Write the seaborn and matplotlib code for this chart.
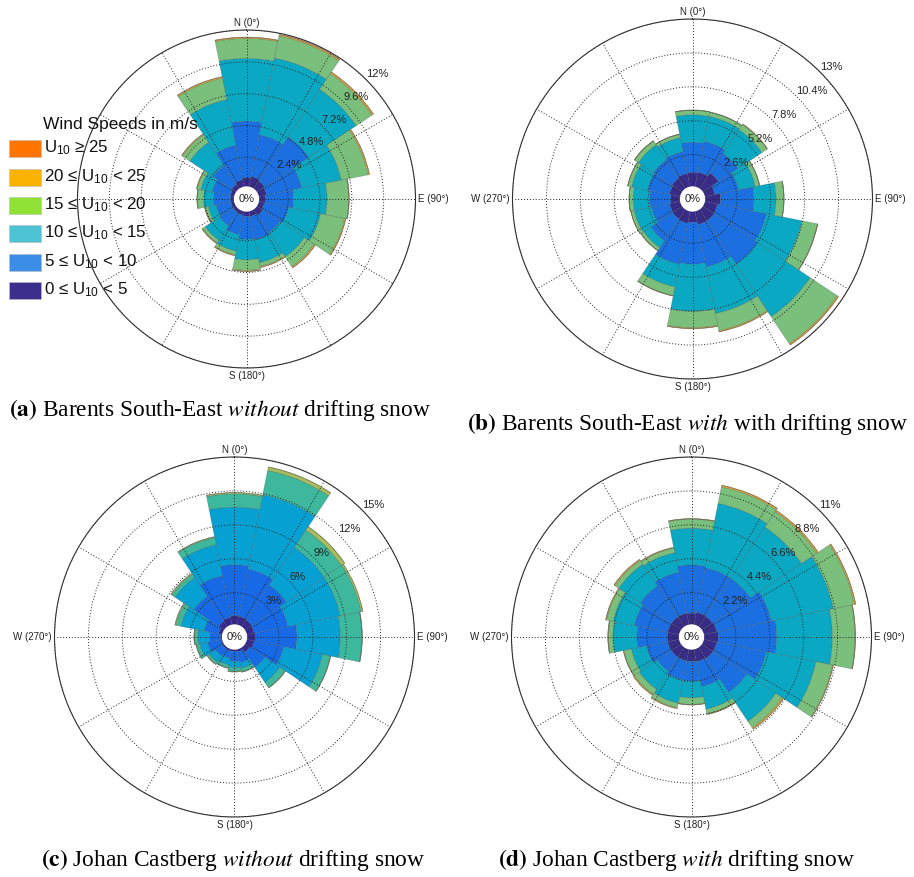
import numpy as np
import matplotlib
matplotlib.use("Agg")
import matplotlib.pyplot as plt
import seaborn as sns
from matplotlib.patches import Rectangle

sns.set_theme(style="white")
plt.rcParams["font.family"] = ["Liberation Sans", "DejaVu Sans"]
plt.rcParams["mathtext.fontset"] = "custom"
plt.rcParams["mathtext.rm"] = "Liberation Sans"
plt.rcParams["mathtext.it"] = "Liberation Sans:italic"
plt.rcParams["mathtext.bf"] = "Liberation Sans:bold"

# ---------------- data ----------------
directions = ["N", "NNE", "NE", "ENE", "E", "ESE", "SE", "SSE",
              "S", "SSW", "SW", "WSW", "W", "WNW", "NW", "NNW"]
direction_deg = [0, 22.5, 45, 67.5, 90, 112.5, 135, 157.5,
                 180, 202.5, 225, 247.5, 270, 292.5, 315, 337.5]
compass_labels = ["N (0°)", "E (90°)", "S (180°)", "W (270°)"]
speed_labels = [r"0 ≤ $\mathregular{U_{10}}$ < 5",
                r"5 ≤ $\mathregular{U_{10}}$ < 10",
                r"10 ≤ $\mathregular{U_{10}}$ < 15",
                r"15 ≤ $\mathregular{U_{10}}$ < 20",
                r"20 ≤ $\mathregular{U_{10}}$ < 25",
                r"$\mathregular{U_{10}}$ ≥ 25"]

# (a) Barents South-East without drifting snow, frequency in % per direction
a_0_5   = [0.86, 1.00, 0.90, 0.80, 0.70, 0.63, 0.75, 0.60, 0.58, 0.50, 0.48, 0.45, 0.45, 0.50, 0.60, 0.75]
a_5_10  = [4.27, 3.20, 4.00, 2.70, 2.10, 1.87, 1.55, 1.80, 1.72, 1.50, 1.22, 1.15, 1.31, 1.40, 1.70, 2.65]
a_10_15 = [4.73, 5.90, 4.30, 3.04, 2.53, 2.45, 2.20, 1.75, 1.55, 1.27, 1.30, 0.60, 0.74, 0.87, 2.10, 3.50]
a_15_20 = [1.51, 1.70, 1.44, 2.06, 1.64, 1.85, 0.90, 0.30, 0.80, 0.28, 0.25, 0.25, 0.47, 0.28, 0.68, 1.65]
a_20_25 = [0.08, 0.10, 0.12, 0.10, 0.03, 0.08, 0.10, 0.07, 0.07, 0.07, 0.05, 0.03, 0.03, 0.05, 0.07, 0.10]
a_25    = [0.02, 0.02, 0.02, 0.01, 0.00, 0.01, 0.01, 0.00, 0.00, 0.00, 0.00, 0.00, 0.00, 0.00, 0.00, 0.01]

# (b) Barents South-East with drifting snow
b_0_5   = [1.25, 1.30, 1.60, 0.95, 1.35, 1.15, 1.20, 1.20, 1.00, 1.10, 1.05, 1.00, 0.87, 1.00, 1.10, 1.20]
b_5_10  = [2.30, 2.40, 1.80, 1.85, 2.55, 3.82, 4.00, 3.30, 3.20, 3.20, 2.01, 1.40, 1.60, 1.70, 1.70, 1.70]
b_10_15 = [2.11, 1.96, 2.20, 1.30, 1.70, 2.78, 4.85, 3.65, 3.60, 1.77, 0.64, 1.35, 1.28, 1.25, 1.40, 1.10]
b_15_20 = [0.34, 0.31, 0.47, 0.33, 0.60, 1.21, 2.50, 1.35, 1.28, 0.68, 0.25, 0.25, 0.30, 0.30, 0.35, 0.25]
b_20_25 = [0.02, 0.02, 0.05, 0.02, 0.02, 0.03, 0.10, 0.08, 0.06, 0.03, 0.02, 0.02, 0.02, 0.02, 0.03, 0.02]
b_25    = [0.00, 0.00, 0.00, 0.00, 0.00, 0.00, 0.02, 0.01, 0.01, 0.00, 0.00, 0.00, 0.00, 0.00, 0.00, 0.00]

# (c) Johan Castberg without drifting snow
c_0_5   = [0.95, 0.95, 0.90, 0.85, 0.90, 0.85, 0.70, 0.40, 0.35, 0.35, 0.35, 0.30, 0.30, 0.50, 0.75, 0.85]
c_5_10  = [4.52, 4.25, 3.70, 3.05, 3.70, 2.65, 1.60, 1.00, 0.90, 0.65, 0.75, 1.20, 1.00, 1.30, 2.65, 3.75]
c_10_15 = [5.09, 6.70, 4.00, 4.70, 3.83, 3.50, 1.60, 0.50, 0.55, 0.60, 0.65, 0.70, 1.00, 2.10, 2.00, 2.80]
c_15_20 = [1.19, 2.20, 1.85, 1.90, 1.92, 0.70, 0.55, 0.30, 0.30, 0.25, 0.20, 0.30, 0.33, 0.45, 0.35, 0.65]
c_20_25 = [0.10, 0.30, 0.35, 0.15, 0.03, 0.05, 0.05, 0.05, 0.07, 0.05, 0.07, 0.05, 0.04, 0.10, 0.10, 0.07]
c_25    = [0.01, 0.02, 0.02, 0.01, 0.00, 0.00, 0.00, 0.00, 0.00, 0.00, 0.00, 0.00, 0.00, 0.00, 0.00, 0.00]

# (d) Johan Castberg with drifting snow
d_0_5   = [0.87, 0.95, 0.95, 1.00, 1.06, 1.00, 1.00, 0.95, 0.90, 0.90, 0.90, 0.90, 0.90, 0.90, 0.90, 0.90]
d_5_10  = [3.13, 2.95, 2.95, 3.60, 3.79, 3.26, 2.64, 1.65, 1.29, 1.26, 1.10, 1.40, 1.96, 2.20, 2.40, 2.70]
d_10_15 = [2.38, 4.26, 4.00, 4.10, 3.61, 3.29, 2.26, 1.50, 1.08, 1.54, 1.40, 1.00, 1.54, 1.40, 1.70, 1.30]
d_15_20 = [0.59, 1.09, 1.20, 1.40, 1.47, 1.10, 0.50, 0.30, 0.43, 0.30, 0.40, 0.50, 0.32, 0.45, 0.30, 0.30]
d_20_25 = [0.03, 0.10, 0.10, 0.08, 0.03, 0.05, 0.10, 0.05, 0.03, 0.06, 0.07, 0.03, 0.03, 0.05, 0.08, 0.05]
d_25    = [0.00, 0.01, 0.01, 0.01, 0.00, 0.00, 0.01, 0.00, 0.00, 0.00, 0.00, 0.00, 0.00, 0.00, 0.00, 0.00]

a_ticks = [2.4, 4.8, 7.2, 9.6, 12]
b_ticks = [2.6, 5.2, 7.8, 10.4, 13]
c_ticks = [3, 6, 9, 12, 15]
d_ticks = [2.2, 4.4, 6.6, 8.8, 11]

captions = [r"$\mathbf{(a)}$ Barents South-East $\mathit{without}$ drifting snow",
            r"$\mathbf{(b)}$ Barents South-East $\mathit{with}$ with drifting snow",
            r"$\mathbf{(c)}$ Johan Castberg $\mathit{without}$ drifting snow",
            r"$\mathbf{(d)}$ Johan Castberg $\mathit{with}$ drifting snow"]

# ---------------- styles ----------------
bar_colors = sns.color_palette(["#392b88", "#1b6fe0", "#0aa8c2", "#7bbf7c", "#eaa935", "#f07020"])
bar_colors_c = sns.color_palette(["#37298e", "#1769e6", "#07a0d2", "#3db89c", "#a8be5c", "#e8b030"])
legend_colors = ["#3a2e8c", "#3b8de5", "#4ec3d3", "#8fe136", "#f9b300", "#ff7500"]

W, H = 914, 877
fig = plt.figure(figsize=(W / 100, H / 100), dpi=100)
fig.patch.set_facecolor("white")
HOLE = 0.058


def draw_panel(cx, cy, R, bins, colors, ticks, show_w=True):
    ax = fig.add_axes([(cx - R) / W, 1 - (cy + R) / H, 2 * R / W, 2 * R / H],
                      projection="polar")
    theta = np.deg2rad(direction_deg)
    bottom = np.zeros(len(theta))
    for vals, col in zip(bins, colors):
        vals = np.asarray(vals)
        ax.bar(theta, vals, width=np.deg2rad(22.5), bottom=bottom, color=col,
               edgecolor=(0.2, 0.25, 0.25, 0.35), linewidth=0.45, align="center", zorder=1)
        bottom = bottom + vals
    rmax = ticks[-1]
    ax.set_theta_zero_location("N")
    ax.set_theta_direction(-1)
    ax.set_ylim(0, rmax)
    ax.set_rorigin(-HOLE * rmax / (1 - HOLE))
    ax.set_rticks(ticks)
    ax.set_yticklabels([])
    ax.set_thetagrids(np.arange(0, 360, 30), [""] * 12)
    ax.grid(True, color="#222222", linestyle=(0, (1, 2)), linewidth=0.7)
    ax.set_axisbelow(False)
    ax.spines["polar"].set_color("#333333")
    ax.spines["polar"].set_linewidth(0.8)
    for key in ("inner", "start", "end"):
        try:
            ax.spines[key].set_visible(False)
        except KeyError:
            pass
    # compass labels just outside the rim (offsets in axes fraction)
    d = 1.0 / (2 * R)
    kw = dict(transform=ax.transAxes, fontsize=7, color="#222222")
    ax.text(0.5, 1 + 7 * d, compass_labels[0], ha="center", va="center", **kw)
    ax.text(1 + 3 * d, 0.5, compass_labels[1], ha="left", va="center", **kw)
    ax.text(0.5, -8 * d, compass_labels[2], ha="center", va="center", **kw)
    if show_w:
        ax.text(-3 * d, 0.5, compass_labels[3], ha="right", va="center", **kw)
    for t in ticks:
        ax.text(np.deg2rad(45), t, f"{t:g}%", ha="left", va="bottom",
                fontsize=8, color="#222222", zorder=5)
    # "0%" in a clean white hole
    ax.text(0.5, 0.5, "0%", transform=ax.transAxes, ha="center", va="center",
            fontsize=8, color="#222222", zorder=6,
            bbox=dict(boxstyle="circle,pad=0.42", facecolor="white", edgecolor="none"))
    return ax


draw_panel(246.5, 199, 169, [a_0_5, a_5_10, a_10_15, a_15_20, a_20_25, a_25],
           bar_colors, a_ticks, show_w=False)
draw_panel(692.5, 199, 180, [b_0_5, b_5_10, b_10_15, b_15_20, b_20_25, b_25],
           bar_colors, b_ticks)
draw_panel(234.5, 637, 180, [c_0_5, c_5_10, c_10_15, c_15_20, c_20_25, c_25],
           bar_colors_c, c_ticks)
draw_panel(691.5, 637, 180, [d_0_5, d_5_10, d_10_15, d_15_20, d_20_25, d_25],
           bar_colors, d_ticks)

# legend (panel a), drawn in figure pixel space
fig.text(43 / W, 1 - 125 / H, "Wind Speeds in m/s", ha="left", va="center",
         fontsize=12.5, color="#111111")
row_y = [290, 262, 233, 205, 177, 148]
for y, col, lab in zip(row_y, legend_colors, speed_labels):
    fig.add_artist(Rectangle((9 / W, 1 - (y + 8.5) / H), 32 / W, 17 / H,
                             transform=fig.transFigure, facecolor=col,
                             edgecolor="#bbbbbb", linewidth=0.4))
    fig.text(44 / W, 1 - y / H, lab, ha="left", va="center", fontsize=12.2,
             color="#111111")

# captions
cap_pos = [(219.5, 410), (687, 424), (233, 860), (676.5, 860)]
for (x, y), cap in zip(cap_pos, captions):
    fig.text(x / W, 1 - y / H, cap, ha="center", va="center", fontsize=16.8,
             family=["Liberation Serif", "DejaVu Serif"], math_fontfamily="stix",
             color="black")

fig.savefig("out.png", dpi=100, facecolor="white")
